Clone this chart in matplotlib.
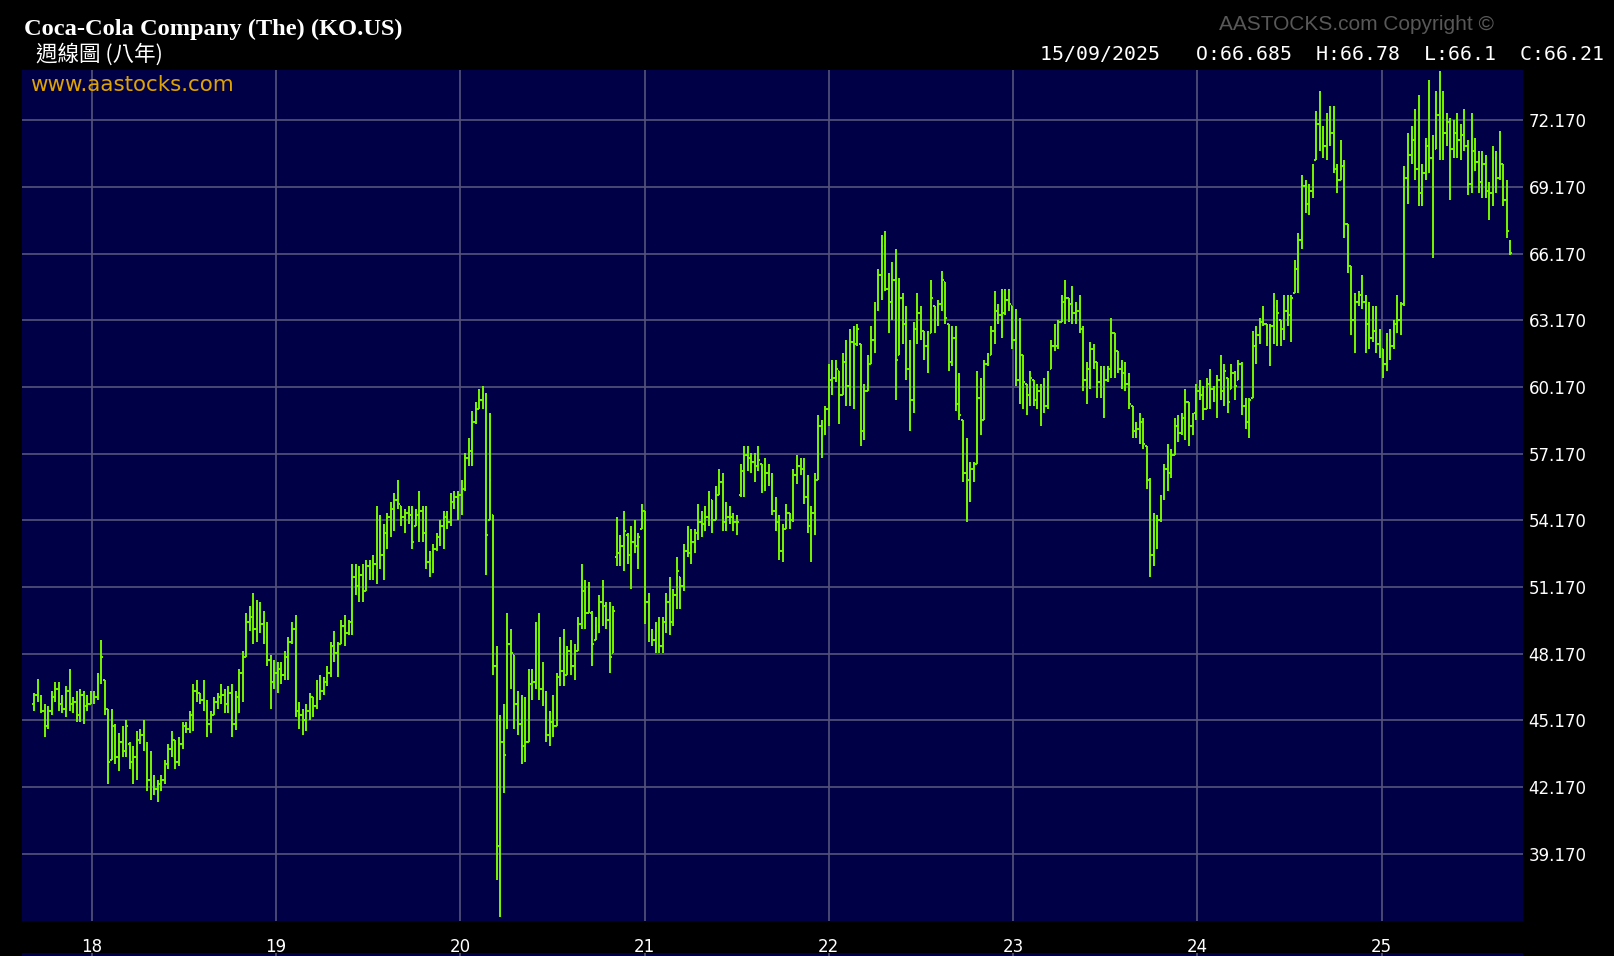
import matplotlib
matplotlib.use("Agg")
import matplotlib.pyplot as plt
import matplotlib.dates as mdates
import numpy as np
import pandas as pd

# weekly bars: (open, high, low, close), weeks start on Monday
FIRST_WEEK = "2017-09-11"

bars_2017 = [
    (45.9, 46.4, 45.6, 46.3), (46.3, 47.05, 46.0, 46.1), (46.1, 46.3, 45.5, 45.6), (45.6, 45.9, 44.4, 44.9),
    (44.9, 45.8, 44.8, 45.6), (45.6, 46.5, 45.4, 46.2), (46.2, 46.9, 46.0, 46.6), (46.6, 46.9, 45.6, 45.9),
    (45.9, 46.3, 45.5, 45.7), (45.7, 46.7, 45.3, 46.5), (46.5, 47.5, 45.6, 45.9), (45.9, 46.2, 45.5, 46.0),
    (46.0, 46.5, 45.1, 45.4), (45.4, 46.6, 45.1, 46.3), (46.3, 46.5, 45.0, 45.8), (45.8, 46.3, 45.6, 45.9),
]

bars_2018 = [
    (45.9, 46.5, 45.9, 46.3), (46.3, 46.5, 45.9, 46.2), (46.2, 47.3, 46.1, 47.1), (47.1, 48.8, 46.8, 48.0),
    (47.0, 47.0, 45.4, 45.7), (45.7, 45.7, 42.3, 43.3), (43.4, 45.7, 43.4, 44.9), (44.9, 45.0, 43.2, 43.5),
    (43.5, 44.6, 42.9, 44.2), (44.2, 44.9, 43.5, 43.8), (43.8, 45.2, 43.5, 44.9), (44.1, 44.2, 43.0, 43.3),
    (43.3, 44.0, 42.3, 43.5), (43.5, 44.7, 42.5, 44.3), (44.3, 44.8, 44.1, 44.5), (44.5, 45.2, 43.8, 43.9),
    (43.9, 44.2, 42.0, 42.5), (42.5, 43.8, 41.6, 42.2), (42.2, 42.7, 41.8, 42.1), (42.1, 42.5, 41.5, 42.3),
    (42.3, 42.7, 42.0, 42.5), (42.5, 43.4, 42.3, 43.2), (43.2, 44.1, 43.0, 43.9), (43.9, 44.7, 43.5, 44.3),
    (44.3, 44.3, 43.0, 43.3), (43.3, 44.4, 43.1, 44.1), (44.1, 45.1, 43.9, 44.9), (44.9, 45.1, 44.6, 44.8),
    (44.8, 45.6, 44.6, 45.4), (45.4, 46.8, 44.7, 46.5), (46.5, 47.0, 46.0, 46.6), (46.4, 46.4, 45.9, 46.1),
    (46.1, 47.0, 45.6, 45.8), (45.8, 46.1, 44.4, 45.0), (45.0, 45.6, 44.6, 45.4), (45.4, 46.2, 45.4, 46.0),
    (46.0, 46.4, 45.7, 46.2), (46.2, 46.8, 45.9, 46.3), (46.3, 46.6, 45.5, 45.9), (45.9, 46.7, 45.5, 46.4),
    (46.4, 46.8, 44.4, 45.0), (45.0, 46.5, 44.75, 46.2), (46.2, 47.5, 45.5, 47.3), (47.3, 48.3, 46.0, 48.0),
    (48.0, 50.0, 48.0, 49.6), (49.6, 50.3, 49.2, 49.8), (49.8, 50.9, 48.6, 49.3), (49.3, 50.6, 48.7, 50.2),
    (50.2, 50.5, 49.1, 49.5), (49.5, 50.1, 48.6, 48.9), (48.9, 49.6, 47.6, 47.9), (47.9, 48.1, 45.7, 46.9),
    (46.9, 47.9, 46.6, 47.3),
]

bars_2019 = [
    (47.3, 47.8, 46.4, 47.5), (47.5, 47.8, 46.8, 47.2), (47.2, 48.3, 47.0, 48.0), (48.0, 48.9, 47.0, 48.7),
    (48.7, 49.6, 48.6, 49.3), (49.3, 49.9, 45.3, 45.6), (45.6, 46.0, 44.8, 45.4), (45.4, 45.7, 44.5, 45.2),
    (45.2, 45.9, 44.7, 45.6), (45.6, 46.4, 45.2, 46.2), (46.2, 46.2, 45.3, 45.8), (45.8, 47.0, 45.7, 46.8),
    (46.8, 47.2, 46.1, 46.5), (46.5, 47.1, 46.3, 46.9), (46.9, 47.6, 46.7, 47.3), (47.3, 48.7, 47.1, 48.5),
    (48.5, 49.2, 47.8, 48.2), (48.2, 48.7, 47.1, 48.6), (48.6, 49.7, 48.6, 49.4), (49.4, 49.9, 48.5, 49.1),
    (49.1, 49.7, 49.0, 49.6), (49.6, 52.2, 49.0, 51.6), (51.6, 52.2, 50.8, 51.2), (51.2, 52.1, 50.5, 51.7),
    (51.7, 52.2, 50.5, 51.0), (51.0, 52.4, 51.0, 52.1), (52.1, 52.4, 51.5, 51.8), (51.8, 52.6, 51.5, 52.2),
    (52.2, 54.8, 51.3, 54.2), (54.2, 54.4, 52.0, 52.6), (52.6, 54.0, 51.5, 53.6), (53.6, 54.5, 52.9, 54.3),
    (54.3, 55.0, 53.4, 54.7), (54.7, 55.4, 53.7, 55.1), (55.1, 56.0, 54.7, 54.9), (54.8, 54.8, 53.9, 54.3),
    (54.3, 54.7, 53.6, 54.5), (54.5, 54.8, 54.0, 54.4), (54.4, 54.8, 52.9, 53.2), (53.9, 54.7, 53.9, 54.4),
    (54.4, 55.5, 53.2, 54.6), (54.6, 54.8, 53.2, 53.6), (53.6, 54.8, 52.0, 52.3), (52.3, 52.8, 51.6, 52.0),
    (52.0, 53.1, 51.8, 52.9), (52.9, 53.6, 52.8, 53.4), (53.4, 54.2, 53.0, 53.9), (53.9, 54.6, 52.9, 54.3),
    (54.3, 54.6, 53.8, 54.1), (54.1, 55.4, 53.9, 55.0), (55.0, 55.5, 54.7, 55.2), (55.2, 55.5, 54.2, 55.3),
]

bars_2020 = [
    (55.3, 56.0, 54.4, 55.6), (55.6, 57.2, 55.5, 57.0), (57.0, 57.9, 56.6, 57.3), (57.3, 59.1, 56.6, 58.6),
    (58.6, 59.5, 58.5, 59.2), (59.2, 60.1, 59.2, 59.6), (59.6, 60.2, 59.2, 59.8), (59.8, 59.9, 51.7, 53.5),
    (54.2, 59.0, 54.2, 56.0), (54.4, 54.4, 47.2, 47.6), (47.6, 48.5, 38.0, 39.5), (39.5, 45.4, 36.3, 44.2),
    (44.2, 45.9, 41.9, 43.6), (44.9, 50.0, 44.8, 48.6), (48.6, 49.3, 46.6, 48.2), (48.1, 48.1, 44.8, 45.9),
    (45.9, 46.5, 44.5, 45.0), (45.0, 46.3, 43.2, 44.0), (44.0, 46.2, 43.3, 44.2), (44.2, 47.5, 44.2, 46.8),
    (46.8, 47.5, 46.1, 46.9), (46.9, 49.6, 46.6, 49.3), (49.3, 50.0, 46.1, 46.6), (46.6, 47.8, 45.8, 46.0),
    (46.0, 46.5, 44.2, 44.5), (44.5, 45.6, 44.0, 45.1), (45.1, 46.3, 44.4, 44.9), (44.9, 47.3, 44.9, 47.1),
    (47.1, 48.9, 46.7, 47.4), (47.4, 49.3, 46.7, 47.2), (47.2, 48.5, 47.2, 48.3), (48.3, 48.8, 47.2, 47.6),
    (47.6, 48.6, 47.0, 48.3), (48.3, 49.8, 48.3, 49.5), (49.5, 52.2, 49.3, 51.0), (51.0, 51.5, 49.3, 50.0),
    (50.0, 51.4, 50.0, 50.9), (50.0, 50.1, 47.6, 48.6), (48.8, 49.8, 48.8, 49.4), (49.4, 50.8, 49.1, 50.5),
    (50.5, 51.5, 49.4, 50.3), (50.3, 50.5, 49.3, 49.7), (49.7, 50.5, 47.3, 48.0), (48.2, 50.3, 48.2, 50.1),
    (52.5, 54.3, 52.1, 52.7), (52.7, 53.5, 52.1, 53.0), (53.0, 54.6, 51.9, 53.7), (53.5, 53.6, 52.2, 52.6),
    (52.6, 53.9, 51.1, 53.2), (53.2, 54.2, 52.7, 53.0), (53.0, 53.6, 52.0, 53.4), (53.8, 54.9, 53.8, 54.8),
]

bars_2021 = [
    (54.6, 54.6, 49.5, 50.5), (50.5, 50.9, 48.7, 49.0), (49.0, 49.3, 48.5, 48.8), (48.8, 49.6, 48.2, 49.2),
    (49.2, 49.8, 48.2, 48.5), (48.5, 49.8, 48.2, 49.6), (49.6, 50.9, 49.1, 50.5), (50.5, 51.6, 49.0, 49.6),
    (49.6, 51.1, 49.4, 50.8), (50.8, 52.5, 50.2, 51.9), (51.6, 51.6, 50.2, 51.2), (51.2, 53.1, 51.0, 52.8),
    (52.8, 53.9, 52.5, 52.7), (52.7, 53.8, 52.2, 53.2), (53.2, 53.8, 52.7, 53.6), (53.6, 54.9, 53.3, 54.1),
    (54.1, 54.6, 53.4, 54.0), (54.0, 54.8, 53.7, 54.3), (54.3, 55.5, 53.9, 55.2), (55.1, 55.1, 53.6, 54.2),
    (54.2, 55.7, 54.2, 55.3), (55.3, 56.5, 55.3, 55.9), (55.9, 56.3, 53.7, 54.1), (54.1, 55.0, 53.7, 54.3),
    (54.3, 54.8, 54.0, 54.3), (54.3, 54.5, 53.7, 54.1), (54.1, 54.4, 53.5, 54.1), (55.3, 56.7, 55.2, 56.4),
    (56.4, 57.5, 55.2, 57.1), (57.1, 57.5, 56.4, 57.0), (57.0, 57.2, 56.3, 56.8), (56.8, 57.2, 55.9, 56.6),
    (56.6, 57.5, 56.4, 56.9), (56.7, 56.7, 55.4, 55.7), (55.7, 57.0, 55.5, 56.3), (56.3, 56.7, 55.7, 55.9),
    (55.9, 56.3, 54.4, 54.6), (54.6, 55.2, 53.7, 54.1), (54.1, 54.4, 52.4, 52.8), (52.8, 54.0, 52.3, 53.8),
    (53.8, 54.9, 53.8, 54.5), (54.5, 54.5, 53.8, 54.2), (54.2, 56.5, 54.1, 56.2), (56.2, 57.1, 55.8, 56.6),
    (56.6, 57.0, 56.2, 56.5), (56.5, 57.0, 54.9, 55.2), (55.2, 56.2, 53.6, 53.9), (53.9, 54.8, 52.3, 54.5),
    (54.5, 56.3, 53.5, 56.0), (56.0, 58.9, 56.0, 58.4), (58.4, 58.7, 57.0, 58.3), (58.3, 59.3, 58.0, 59.2),
]

bars_2022 = [
    (59.2, 61.2, 58.4, 60.5), (60.5, 61.4, 59.8, 60.6), (60.6, 61.4, 60.4, 61.0), (60.9, 60.9, 58.5, 59.8),
    (59.8, 61.7, 59.8, 61.3), (61.3, 62.3, 59.3, 60.2), (60.2, 62.8, 59.3, 62.2), (62.2, 62.9, 59.2, 59.8),
    (62.1, 63.0, 62.0, 62.8), (62.1, 62.1, 57.5, 58.2), (58.2, 60.3, 57.8, 60.0), (60.0, 61.6, 60.0, 61.2),
    (61.2, 62.9, 61.2, 62.3), (62.3, 64.0, 61.7, 63.7), (63.7, 65.5, 63.6, 65.2), (65.2, 67.0, 64.1, 66.5),
    (66.5, 67.2, 64.5, 64.6), (64.6, 65.3, 62.6, 64.0), (64.0, 65.8, 63.2, 65.0), (65.0, 66.4, 59.6, 61.4),
    (61.6, 65.1, 61.6, 64.2), (64.2, 64.4, 62.1, 63.0), (63.0, 63.8, 60.5, 61.0), (61.0, 62.3, 58.2, 59.6),
    (59.6, 63.1, 59.0, 62.8), (62.8, 64.4, 62.1, 63.5), (63.5, 63.8, 62.3, 63.0), (62.7, 62.7, 61.4, 62.0),
    (62.0, 62.7, 60.8, 62.5), (62.6, 65.0, 62.6, 64.2), (63.8, 63.8, 62.6, 63.3), (63.3, 64.1, 62.9, 63.9),
    (63.9, 65.4, 63.6, 65.0), (64.9, 64.9, 63.0, 63.3), (63.0, 63.0, 60.9, 61.3), (61.3, 62.9, 61.1, 62.4),
    (62.4, 62.9, 59.1, 59.4), (59.4, 60.8, 58.7, 58.9), (58.7, 58.7, 55.9, 56.3), (56.3, 57.9, 54.1, 56.0),
    (56.0, 56.8, 55.0, 56.5), (56.5, 56.8, 55.9, 56.7), (56.7, 60.9, 56.7, 59.7), (59.7, 60.6, 58.0, 58.7),
    (58.7, 61.4, 58.7, 61.2), (61.2, 61.7, 61.1, 61.5), (61.6, 62.9, 61.6, 62.7), (62.7, 64.5, 62.1, 63.6),
    (63.6, 63.9, 63.0, 63.4), (63.4, 64.6, 62.4, 63.5), (63.5, 64.6, 63.4, 64.1), (64.1, 64.6, 63.6, 63.9),
]

bars_2023 = [
    (63.8, 63.8, 61.9, 62.3), (62.3, 63.7, 60.2, 60.5), (60.5, 63.3, 59.4, 62.8), (61.6, 61.6, 59.2, 60.4),
    (60.3, 60.3, 58.9, 59.8), (59.8, 60.9, 59.3, 60.6), (60.5, 60.5, 59.3, 59.6), (59.6, 60.3, 59.2, 60.0),
    (60.0, 60.3, 58.4, 59.2), (59.2, 60.6, 59.0, 59.3), (59.3, 60.9, 59.2, 60.5), (61.0, 62.3, 61.0, 62.0),
    (62.0, 63.0, 61.8, 62.0), (62.0, 63.2, 61.9, 63.1), (63.1, 64.3, 63.1, 64.0), (64.0, 65.0, 63.0, 64.2),
    (64.2, 64.2, 63.1, 63.9), (63.9, 64.7, 63.0, 63.5), (63.5, 64.0, 63.0, 63.6), (63.6, 64.3, 62.6, 62.8),
    (62.8, 62.9, 60.0, 60.5), (60.5, 61.3, 59.4, 61.0), (61.0, 62.2, 60.1, 61.9), (61.9, 62.1, 61.0, 61.3),
    (61.3, 61.3, 59.7, 60.4), (60.4, 61.1, 59.7, 60.8), (60.8, 61.1, 58.8, 60.5), (60.5, 61.1, 60.4, 61.0),
    (61.0, 63.3, 60.6, 62.6), (62.6, 62.6, 60.6, 61.8), (61.8, 61.8, 60.8, 61.0), (61.0, 61.4, 60.1, 60.8),
    (60.8, 61.3, 60.0, 60.3), (60.3, 60.8, 59.2, 59.4), (59.3, 59.3, 57.9, 58.2), (58.2, 58.6, 57.9, 58.3),
    (58.3, 59.0, 57.6, 58.6), (58.6, 58.8, 57.4, 57.6), (57.5, 57.5, 55.6, 56.0), (56.0, 56.1, 51.6, 52.6),
    (52.6, 54.5, 52.1, 53.9), (53.9, 54.4, 52.9, 54.2), (54.2, 55.3, 54.1, 55.2), (55.2, 56.7, 55.1, 56.5),
    (56.5, 57.6, 55.5, 56.3), (56.3, 57.4, 56.1, 57.1), (57.1, 58.8, 57.1, 58.4), (58.4, 58.9, 57.7, 58.1),
    (58.1, 59.0, 58.0, 58.8), (58.8, 60.1, 57.8, 59.5), (59.5, 59.5, 57.5, 58.4), (58.4, 59.0, 58.0, 58.9),
]

bars_2024 = [
    (59.0, 60.3, 58.7, 60.0), (60.0, 60.5, 59.6, 59.8), (59.8, 60.2, 58.7, 59.2), (59.2, 60.6, 59.2, 60.3),
    (60.3, 61.0, 59.2, 60.1), (60.1, 60.2, 59.5, 59.8), (59.8, 60.7, 58.8, 60.5), (60.5, 61.6, 59.6, 60.0),
    (60.0, 61.2, 59.3, 60.9), (60.6, 60.6, 59.0, 59.5), (60.1, 61.2, 60.1, 60.8), (60.8, 60.9, 59.6, 60.2),
    (60.5, 61.4, 60.5, 61.2), (61.2, 61.3, 58.9, 59.3), (59.3, 59.7, 58.3, 58.6), (58.6, 59.7, 57.9, 59.6),
    (59.7, 62.7, 59.7, 62.0), (62.0, 62.9, 61.2, 62.5), (62.5, 63.3, 62.1, 63.1), (63.1, 63.8, 62.9, 63.0),
    (63.0, 63.0, 62.0, 62.4), (62.4, 63.0, 61.1, 62.9), (62.9, 64.4, 62.1, 63.8), (63.8, 64.1, 62.0, 63.5),
    (63.2, 63.2, 62.0, 62.8), (62.8, 64.3, 62.3, 63.6), (63.6, 64.3, 62.9, 63.4), (63.4, 64.3, 62.2, 64.2),
    (64.4, 65.9, 64.4, 65.5), (65.5, 67.1, 64.4, 66.8), (66.8, 69.7, 66.4, 69.2), (69.2, 69.5, 68.0, 68.4),
    (68.4, 69.3, 67.9, 69.0), (69.0, 70.2, 68.7, 70.0), (70.4, 72.6, 70.4, 72.0), (72.0, 73.5, 70.8, 71.4),
    (71.4, 71.9, 70.5, 71.0), (71.0, 72.5, 70.4, 72.2), (72.2, 72.8, 71.0, 71.6), (71.6, 72.8, 69.8, 70.0),
    (70.0, 70.2, 68.9, 69.5), (69.5, 71.3, 69.5, 70.1), (70.1, 70.4, 66.9, 67.5), (67.5, 67.5, 65.3, 65.6),
    (65.6, 65.6, 62.5, 63.2), (63.2, 64.4, 61.7, 64.0), (64.0, 64.5, 63.8, 64.3), (64.3, 65.2, 63.7, 64.0),
    (64.0, 64.3, 61.7, 62.5), (63.0, 64.0, 61.9, 62.4), (62.4, 63.8, 62.2, 62.7), (62.7, 63.8, 61.7, 62.1),
    (62.1, 62.8, 61.5, 62.3),
]

bars_2025 = [
    (61.9, 61.9, 60.6, 61.2), (61.2, 62.6, 60.9, 62.3), (62.3, 62.8, 61.4, 62.0), (62.0, 63.2, 61.9, 63.0),
    (63.0, 64.3, 62.6, 63.2), (63.2, 64.0, 62.5, 63.9), (63.9, 70.1, 63.8, 69.6), (69.6, 71.6, 68.4, 70.6),
    (70.6, 71.9, 70.2, 71.3), (71.3, 72.7, 69.5, 70.0), (70.0, 73.3, 68.3, 68.9), (68.9, 70.2, 68.3, 69.8),
    (69.8, 71.4, 69.5, 71.0), (71.0, 74.0, 69.8, 70.5), (70.5, 71.5, 66.0, 70.9), (70.9, 73.5, 70.9, 72.4),
    (72.4, 74.4, 70.4, 71.8), (71.8, 73.5, 70.4, 71.6), (71.6, 72.5, 71.0, 72.1), (72.1, 72.3, 68.6, 70.9),
    (70.9, 72.2, 70.5, 71.6), (71.6, 72.5, 70.5, 71.3), (71.3, 72.0, 70.4, 71.5), (71.5, 72.7, 70.8, 71.0),
    (71.0, 71.3, 68.8, 69.3), (69.3, 72.5, 68.9, 70.8), (70.8, 71.4, 69.9, 70.3), (70.3, 70.8, 68.9, 69.4),
    (69.4, 70.8, 68.7, 70.2), (70.2, 70.6, 68.7, 69.0), (69.0, 69.4, 67.7, 68.9), (68.9, 71.0, 68.3, 70.5),
    (70.5, 70.8, 68.9, 69.6), (69.6, 71.7, 69.5, 70.2), (70.2, 70.2, 68.3, 68.6), (68.6, 69.5, 66.9, 67.2),
    (66.685, 66.78, 66.1, 66.21),
]

years = [2018, 2019, 2020, 2021, 2022, 2023, 2024, 2025]
year_labels = ["18", "19", "20", "21", "22", "23", "24", "25"]
price_ticks = [39.17, 42.17, 45.17, 48.17, 51.17, 54.17, 57.17, 60.17, 63.17, 66.17, 69.17, 72.17]

title = "Coca-Cola Company (The) (KO.US)"
subtitle = "週線圖 (八年)"
last_quote = "15/09/2025   O:66.685  H:66.78  L:66.1  C:66.21"

W, H = 1614, 956
NAVY = "#000046"
GRID = "#55557a"
GREEN = "#74f800"


def main():
    fig = plt.figure(figsize=(W / 100, H / 100), dpi=100, facecolor="black")
    left, right, top, bottom = 21.6, 1523, 70, 921
    ax = fig.add_axes([left / W, 1 - bottom / H, (right - left) / W, (bottom - top) / H])
    ax.set_facecolor(NAVY)

    ohlc = np.array(bars_2017 + bars_2018 + bars_2019 + bars_2020 + bars_2021
                    + bars_2022 + bars_2023 + bars_2024 + bars_2025)
    x = mdates.date2num(pd.date_range(FIRST_WEEK, periods=len(ohlc), freq="7D"))
    o, h, l, c = ohlc.T

    ax.vlines(x, l, h, colors=GREEN, lw=1.4)
    ax.hlines(o, x - 3.4, x, colors=GREEN, lw=1.4)
    ax.hlines(c, x, x + 3.4, colors=GREEN, lw=1.4)

    ax.set_xlim(mdates.date2num(pd.Timestamp("2017-08-17")), mdates.date2num(pd.Timestamp("2025-10-10")))
    ax.set_ylim(36.14, 74.44)

    ax.set_xticks(mdates.date2num([pd.Timestamp("%d-01-03" % y) for y in years]))
    ax.set_xticklabels(year_labels)
    ax.set_yticks(price_ticks)
    ax.set_yticklabels(["%.3f" % v for v in price_ticks])
    ax.yaxis.tick_right()
    ax.tick_params(colors="white", length=0, labelsize=12)
    ax.tick_params(axis="x", pad=12)
    ax.tick_params(axis="y", pad=4)
    ax.grid(True, color=GRID, lw=1.2)
    ax.set_axisbelow(True)
    for s in ax.spines.values():
        s.set_visible(False)

    # thin strip of the next panel at the bottom edge
    strip = fig.add_axes([left / W, 0, (right - left) / W, 3 / H])
    strip.set_facecolor(NAVY)
    strip.set_xlim(ax.get_xlim())
    strip.set_xticks(ax.get_xticks())
    strip.set_yticks([])
    strip.tick_params(length=0, labelbottom=False)
    strip.grid(True, axis="x", color=GRID, lw=1.2)
    for s in strip.spines.values():
        s.set_visible(False)

    fig.text(23.7 / W, 1 - 29 / H, title, color="white", fontsize=17.6, fontweight="bold",
             family="Liberation Serif", va="center", ha="left")
    fig.text(36 / W, 1 - 54.5 / H, subtitle, color="white", fontsize=15.5,
             family=["Noto Sans CJK TC", "DejaVu Sans"], va="center", ha="left")
    fig.text(1604 / W, 1 - 54.5 / H, last_quote, color="white", fontsize=14.3,
             family="DejaVu Sans Mono", va="center", ha="right")
    fig.text(1219 / W, 1 - 24.7 / H, "AASTOCKS.com Copyright ©", color="#585858", fontsize=15,
             family="Liberation Sans", va="center", ha="left")
    ax.text(30 / W, 1 - 85.4 / H, "www.aastocks.com", color="#e0a400", fontsize=15.4,
            family="DejaVu Sans", va="center", ha="left", transform=fig.transFigure)

    fig.savefig("out.png", dpi=100, facecolor="black")


if __name__ == "__main__":
    main()
